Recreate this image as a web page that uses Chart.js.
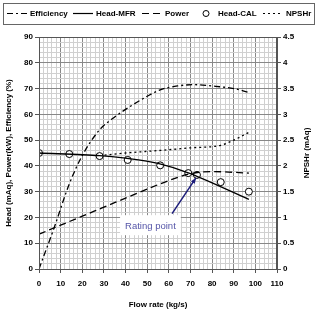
<!DOCTYPE html>
<html>
<head>
<meta charset="utf-8">
<script src="https://cdn.jsdelivr.net/npm/chart.js@4"></script>
<style>
  html, body { margin: 0; padding: 0; background: #fff; }
  #wrap { width: 317px; height: 311px; position: relative; }
</style>
</head>
<body>
<div id="wrap"><canvas id="pump"></canvas></div>
<script>
// flow rate (kg/s) and values
var effFlow = [0, 7, 14, 20, 28, 35, 42, 50, 56, 64, 72, 80, 90, 97];
var effValues = [0, 16, 33, 44, 54, 59, 63, 67, 69.5, 71, 71.5, 71, 70, 68.5];

var mfrFlow = [0, 28, 40, 55, 70, 97];
var mfrValues = [45, 44, 43, 41, 37, 27];

var powerFlow = [0, 10, 20, 30, 40, 50, 60, 70, 80, 90, 97];
var powerValues = [13.5, 17, 20.5, 24, 27.5, 31, 34.3, 37, 37.8, 37.5, 37.2];

var calFlow = [0, 14, 28, 41, 56, 69, 73, 84, 97];
var calValues = [45, 44.6, 43.8, 42.3, 40.2, 37.2, 36.5, 33.7, 30];

var npshFlow = [28, 40, 56, 70, 84, 90, 97];
var npshValues = [2.2, 2.25, 2.3, 2.35, 2.4, 2.5, 2.65];

var xTicks = [0, 10, 20, 30, 40, 50, 60, 70, 80, 90, 100, 110];
var leftTicks = [0, 10, 20, 30, 40, 50, 60, 70, 80, 90];
var rightTicks = [0, 0.5, 1, 1.5, 2, 2.5, 3, 3.5, 4, 4.5];

var ratingPoint = [73, 36.5];
var ratingLabel = "Rating point";
var rightTitle = "NPSHr (mAq)";

function pts(xs, ys) {
  return xs.map(function(x, i) { return { x: x, y: ys[i] }; });
}

var font = "'Liberation Sans', Arial, sans-serif";

function gridColor(ctx) {
  if (!ctx.tick) return "#d0d0d0";
  return Math.abs(ctx.tick.value % 10) < 1e-6 ? "#888" : "#d0d0d0";
}
function tickMarkColor(ctx) {
  if (!ctx.tick) return "transparent";
  return Math.abs(ctx.tick.value % 10) < 1e-6 ? "#555" : "transparent";
}

var legendItems = [
  { label: "Efficiency", dash: [6, 3, 2, 3], x: 7 },
  { label: "Head-MFR", dash: [], x: 73 },
  { label: "Power", dash: [7, 4], x: 142 },
  { label: "Head-CAL", circle: true, x: 201 },
  { label: "NPSHr", dash: [2, 3], x: 263 }
];

var extras = {
  id: "extras",
  afterDraw: function(chart) {
    var c = chart.ctx;
    var area = chart.chartArea;
    var xs = chart.scales.x;
    var ys = chart.scales.y;
    c.save();

    // plot frame
    c.strokeStyle = "#555";
    c.lineWidth = 1;
    c.strokeRect(Math.round(area.left) + 0.5, Math.round(area.top) + 0.5,
      Math.round(area.right - area.left) - 1, Math.round(area.bottom - area.top));

    // right axis title, reading upwards
    c.save();
    c.translate(307, (area.top + area.bottom) / 2);
    c.rotate(-Math.PI / 2);
    c.font = "bold 8px " + font;
    c.fillStyle = "#000";
    c.textAlign = "center";
    c.textBaseline = "middle";
    c.fillText(rightTitle, 0, 0);
    c.restore();

    // legend box
    c.strokeStyle = "#666";
    c.strokeRect(3.5, 3.5, 311, 21);
    c.font = "bold 8px " + font;
    c.fillStyle = "#000";
    c.textBaseline = "middle";
    legendItems.forEach(function(it) {
      var y = 13.5;
      if (it.circle) {
        c.beginPath();
        c.arc(it.x + 5, y, 3, 0, Math.PI * 2);
        c.fillStyle = "#fff";
        c.fill();
        c.strokeStyle = "#000";
        c.setLineDash([]);
        c.lineWidth = 1;
        c.stroke();
        c.fillStyle = "#000";
        c.fillText(it.label, it.x + 17, y);
      } else {
        c.beginPath();
        c.setLineDash(it.dash);
        c.strokeStyle = "#000";
        c.lineWidth = 1.2;
        c.moveTo(it.x, y);
        c.lineTo(it.x + 20, y);
        c.stroke();
        c.setLineDash([]);
        c.fillText(it.label, it.x + 23, y);
      }
    });

    // rating point label and arrow
    var tx = xs.getPixelForValue(51.5);
    var ty = ys.getPixelForValue(17);
    c.font = "9.5px " + font;
    var w = c.measureText(ratingLabel).width;
    c.fillStyle = "#fff";
    c.fillRect(tx - w / 2 - 5, ty - 10, w + 10, 20);
    c.fillStyle = "#5555a8";
    c.textAlign = "center";
    c.fillText(ratingLabel, tx, ty + 1);

    var x0 = xs.getPixelForValue(61.5), y0 = ys.getPixelForValue(21.5);
    var x1 = xs.getPixelForValue(ratingPoint[0]) - 1, y1 = ys.getPixelForValue(ratingPoint[1]) + 3;
    c.strokeStyle = "#1c1c7a";
    c.fillStyle = "#1c1c7a";
    c.lineWidth = 1.5;
    c.beginPath();
    c.moveTo(x0, y0);
    c.lineTo(x1, y1);
    c.stroke();
    var ang = Math.atan2(y1 - y0, x1 - x0);
    c.beginPath();
    c.moveTo(x1, y1);
    c.lineTo(x1 - 6 * Math.cos(ang - 0.4), y1 - 6 * Math.sin(ang - 0.4));
    c.lineTo(x1 - 6 * Math.cos(ang + 0.4), y1 - 6 * Math.sin(ang + 0.4));
    c.closePath();
    c.fill();
    c.restore();
  }
};

Chart.defaults.font.family = font;
Chart.defaults.font.size = 8;
Chart.defaults.color = "#000";

new Chart(document.getElementById("pump").getContext("2d"), {
  type: "line",
  data: {
    datasets: [
      {
        label: "Efficiency",
        data: pts(effFlow, effValues),
        borderColor: "#000",
        borderWidth: 1.3,
        borderDash: [6, 3, 2, 3],
        pointRadius: 0,
        cubicInterpolationMode: "monotone",
        yAxisID: "y"
      },
      {
        label: "Head-MFR",
        data: pts(mfrFlow, mfrValues),
        borderColor: "#000",
        borderWidth: 1.3,
        pointRadius: 0,
        tension: 0.3,
        yAxisID: "y"
      },
      {
        label: "Power",
        data: pts(powerFlow, powerValues),
        borderColor: "#000",
        borderWidth: 1.3,
        borderDash: [7, 4],
        pointRadius: 0,
        cubicInterpolationMode: "monotone",
        yAxisID: "y"
      },
      {
        label: "Head-CAL",
        data: pts(calFlow, calValues),
        showLine: false,
        borderColor: "#000",
        backgroundColor: "#fff",
        pointRadius: 3.5,
        pointBorderWidth: 1,
        pointBackgroundColor: "#fff",
        pointBorderColor: "#000",
        yAxisID: "y"
      },
      {
        label: "NPSHr",
        data: pts(npshFlow, npshValues),
        borderColor: "#000",
        borderWidth: 1.3,
        borderDash: [2, 3],
        pointRadius: 0,
        cubicInterpolationMode: "monotone",
        yAxisID: "y1"
      }
    ]
  },
  options: {
    responsive: true,
    maintainAspectRatio: false,
    animation: false,
    layout: { padding: { top: 37, left: 0, right: 0, bottom: 0 } },
    plugins: {
      legend: { display: false },
      tooltip: { enabled: false }
    },
    scales: {
      x: {
        type: "linear",
        min: 0,
        max: 110,
        afterFit: function(s) { s.height = 42; },
        afterBuildTicks: function(s) {
          var t = [];
          for (var v = 0; v <= 110; v += 2) t.push({ value: v });
          s.ticks = t;
        },
        ticks: {
          autoSkip: false,
          maxRotation: 0,
          padding: 6,
          font: { weight: "bold", size: 8 },
          callback: function(v) { return xTicks.indexOf(v) >= 0 ? String(v) : ""; }
        },
        grid: { color: gridColor, tickColor: tickMarkColor, tickLength: 4 },
        border: { color: "#555" },
        title: {
          display: true,
          text: "Flow rate (kg/s)",
          font: { weight: "bold", size: 8 },
          padding: { top: 0, bottom: 1 }
        }
      },
      y: {
        type: "linear",
        position: "left",
        min: 0,
        max: 90,
        afterFit: function(s) { s.width = 39; },
        afterBuildTicks: function(s) {
          var t = [];
          for (var v = 0; v <= 90; v += 2) t.push({ value: v });
          s.ticks = t;
        },
        ticks: {
          autoSkip: false,
          padding: 2,
          font: { weight: "bold", size: 8 },
          callback: function(v) { return leftTicks.indexOf(v) >= 0 ? String(v) : ""; }
        },
        grid: { color: gridColor, tickColor: tickMarkColor, tickLength: 4 },
        border: { color: "#555" },
        title: {
          display: true,
          text: "Head (mAq), Power(kW), Efficiency (%)",
          font: { weight: "bold", size: 8 },
          padding: { top: 4, bottom: 0 }
        }
      },
      y1: {
        type: "linear",
        position: "right",
        min: 0,
        max: 4.5,
        afterFit: function(s) { s.width = 40; },
        afterBuildTicks: function(s) {
          s.ticks = rightTicks.map(function(v) { return { value: v }; });
        },
        ticks: {
          autoSkip: false,
          padding: 2,
          font: { weight: "bold", size: 8 },
          callback: function(v) { return String(v); }
        },
        grid: { drawOnChartArea: false, tickColor: "#555", tickLength: 4 },
        border: { color: "#555" },
        title: { display: false }
      }
    }
  },
  plugins: [extras]
});
</script>
</body>
</html>
